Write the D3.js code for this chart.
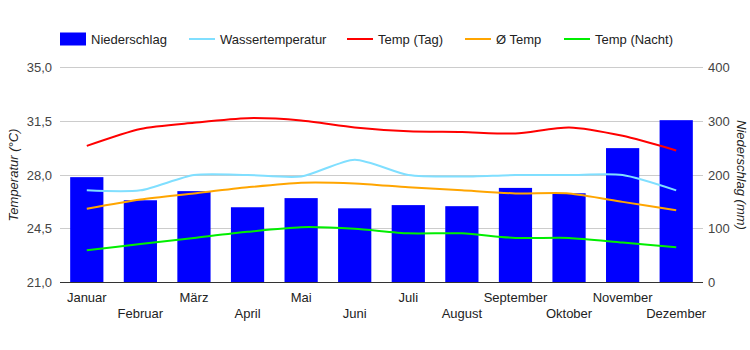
<!DOCTYPE html>
<html>
<head>
<meta charset="utf-8">
<script src="https://cdn.jsdelivr.net/npm/d3@7"></script>
<style>
  body { margin: 0; background: #fff; }
  text { font-family: Arial, "Liberation Sans", sans-serif; }
</style>
</head>
<body>
<div id="chart"></div>
<script>
var months = ["Januar", "Februar", "März", "April", "Mai", "Juni", "Juli", "August", "September", "Oktober", "November", "Dezember"];
var niederschlag = [196, 153, 170, 140, 157, 138, 144, 142, 176, 166, 250, 302];
var wasserTemp = [27.0, 27.0, 28.0, 28.0, 27.9, 29.0, 28.0, 27.9, 28.0, 28.0, 28.0, 27.0];
var tempTag = [29.9, 31.0, 31.4, 31.7, 31.55, 31.1, 30.85, 30.8, 30.7, 31.1, 30.55, 29.6];
var tempAvg = [25.8, 26.4, 26.8, 27.2, 27.5, 27.45, 27.2, 27.0, 26.8, 26.8, 26.25, 25.7];
var tempNacht = [23.1, 23.5, 23.9, 24.3, 24.6, 24.5, 24.2, 24.2, 23.9, 23.9, 23.6, 23.3];
var tempTicks = [21, 24.5, 28, 31.5, 35];
var rainTicks = [0, 100, 200, 300, 400];

var series = [
    {name: "Wassertemperatur", values: wasserTemp, color: "#80dfff"},
    {name: "Temp (Tag)", values: tempTag, color: "#ff0000"},
    {name: "Ø Temp", values: tempAvg, color: "#ffa500"},
    {name: "Temp (Nacht)", values: tempNacht, color: "#00ee00"}
];

var margin = {top: 67.5, right: 47, bottom: 67.5, left: 60};
var width = 750 - margin.left - margin.right;
var height = 350 - margin.top - margin.bottom;

var svg = d3.select("#chart").append("svg")
    .attr("width", 750)
    .attr("height", 350);

var g = svg.append("g")
    .attr("transform", "translate(" + margin.left + "," + margin.top + ")");

var de = d3.formatLocale({decimal: ",", thousands: ".", grouping: [3], currency: ["", "€"]});
var fmt = de.format(".1f");

var x = d3.scaleBand().domain(months).range([0, width]).paddingInner(0.38).paddingOuter(0.19);
var xc = d3.scaleBand().domain(months).range([0, width]);
var yT = d3.scaleLinear().domain([21, 35]).range([height, 0]);
var yR = d3.scaleLinear().domain([0, 400]).range([height, 0]);

// gridlines
g.append("g")
    .selectAll("line")
    .data(tempTicks)
    .enter().append("line")
    .attr("x1", 0).attr("x2", width)
    .attr("y1", function(d) { return yT(d); })
    .attr("y2", function(d) { return yT(d); })
    .attr("stroke", "#cccccc")
    .attr("shape-rendering", "crispEdges");

// left axis labels
g.append("g")
    .selectAll("text")
    .data(tempTicks)
    .enter().append("text")
    .attr("x", -8)
    .attr("y", function(d) { return yT(d); })
    .attr("dy", "0.35em")
    .attr("text-anchor", "end")
    .attr("font-size", 13)
    .attr("fill", "#444")
    .text(function(d) { return fmt(d); });

// right axis labels
g.append("g")
    .selectAll("text")
    .data(rainTicks)
    .enter().append("text")
    .attr("x", width + 5)
    .attr("y", function(d) { return yR(d); })
    .attr("dy", "0.35em")
    .attr("text-anchor", "start")
    .attr("font-size", 13)
    .attr("fill", "#444")
    .text(function(d) { return d; });

// bars
g.selectAll("rect.bar")
    .data(niederschlag)
    .enter().append("rect")
    .attr("class", "bar")
    .attr("x", function(d, i) { return x(months[i]); })
    .attr("width", x.bandwidth())
    .attr("y", function(d) { return yR(d); })
    .attr("height", function(d) { return height - yR(d); })
    .attr("fill", "#0000ff");

// baseline
g.append("line")
    .attr("x1", 0).attr("x2", width)
    .attr("y1", height).attr("y2", height)
    .attr("stroke", "#333")
    .attr("shape-rendering", "crispEdges");

// lines
var line = d3.line()
    .x(function(d, i) { return xc(months[i]) + xc.bandwidth() / 2; })
    .y(function(d) { return yT(d); })
    .curve(d3.curveCardinal.tension(0.3));

series.forEach(function(s) {
    g.append("path")
        .datum(s.values)
        .attr("d", line)
        .attr("fill", "none")
        .attr("stroke", s.color)
        .attr("stroke-width", 2);
});

// x labels, alternating rows
g.append("g")
    .selectAll("text")
    .data(months)
    .enter().append("text")
    .attr("x", function(d) { return xc(d) + xc.bandwidth() / 2; })
    .attr("y", function(d, i) { return height + (i % 2 == 0 ? 19 : 35.5); })
    .attr("text-anchor", "middle")
    .attr("font-size", 13)
    .attr("fill", "#222")
    .text(function(d) { return d; });

// axis titles
svg.append("text")
    .attr("transform", "translate(18,175) rotate(-90)")
    .attr("text-anchor", "middle")
    .attr("font-size", 13)
    .attr("font-style", "italic")
    .attr("fill", "#222")
    .text("Temperatur (°C)");

svg.append("text")
    .attr("transform", "translate(737,175) rotate(90)")
    .attr("text-anchor", "middle")
    .attr("font-size", 13)
    .attr("font-style", "italic")
    .attr("fill", "#222")
    .text("Niederschlag (mm)");

// legend
var legend = svg.append("g").attr("transform", "translate(0,39)");
legend.append("rect")
    .attr("x", 60).attr("y", -6.5)
    .attr("width", 26).attr("height", 13)
    .attr("fill", "#0000ff");
legend.append("text")
    .attr("x", 91).attr("dy", "0.35em")
    .attr("font-size", 13).attr("fill", "#222")
    .text("Niederschlag");

var legendX = [189, 347, 465, 564];
series.forEach(function(s, i) {
    legend.append("line")
        .attr("x1", legendX[i]).attr("x2", legendX[i] + 26)
        .attr("stroke", s.color)
        .attr("stroke-width", 2);
    legend.append("text")
        .attr("x", legendX[i] + 31).attr("dy", "0.35em")
        .attr("font-size", 13).attr("fill", "#222")
        .text(s.name);
});
</script>
</body>
</html>
